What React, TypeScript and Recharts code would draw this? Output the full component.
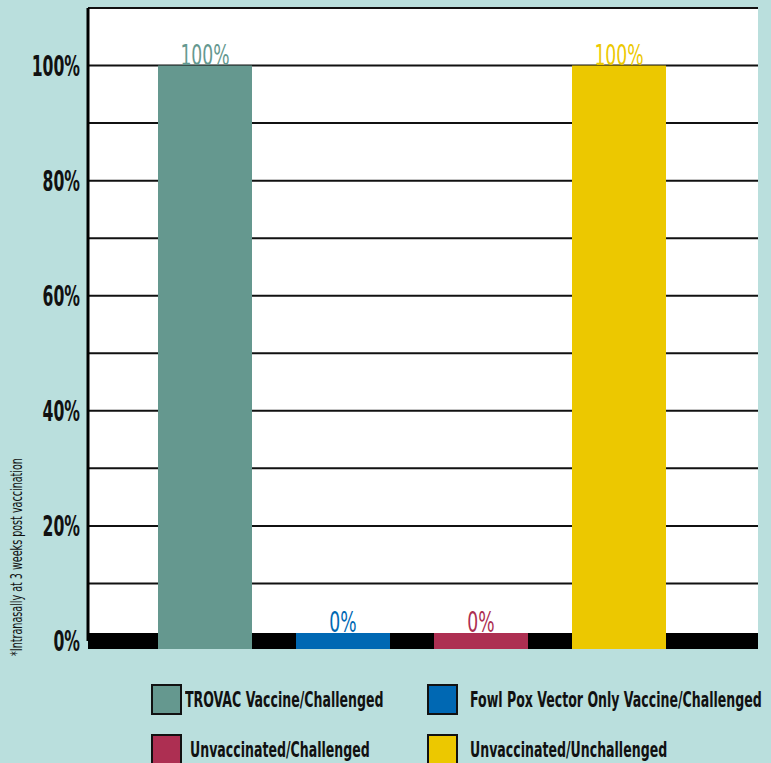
import React from 'react';
import { BarChart, Bar, XAxis, YAxis, CartesianGrid, ReferenceLine, LabelList, Cell } from 'recharts';

const categories = [
  'TROVAC Vaccine/Challenged',
  'Fowl Pox Vector Only Vaccine/Challenged',
  'Unvaccinated/Challenged',
  'Unvaccinated/Unchallenged',
];
const protectionValues = [100, 0, 0, 100];
const barColors = ['#65988f', '#0068b3', '#ad2f52', '#ecc800'];
const gridTicks = [0, 10, 20, 30, 40, 50, 60, 70, 80, 90, 100, 110];
const labelledTicks = [0, 20, 40, 60, 80, 100];
const legendOrder = [0, 1, 2, 3];
const footnote = '*Intranasally at 3 weeks post vaccination';

const data = categories.map((name, i) => ({ name, value: protectionValues[i] }));

const FONT = "'DejaVu Sans Condensed', 'Liberation Sans Narrow', sans-serif";
const BAND = 8;

const YTick = (props: any) => {
  const { x, y, payload } = props;
  if (!labelledTicks.includes(payload.value)) return null;
  return (
    <text
      transform={`translate(${x},${y}) scale(0.6,1)`}
      textAnchor="end"
      dy="0.36em"
      fontSize={29}
      fontWeight="bold"
      fontFamily={FONT}
      fill="#111"
    >
      {payload.value}%
    </text>
  );
};

const BarShape = (props: any) => {
  const { x, y, width, height, index } = props;
  const top = height > 0 ? y : y - BAND;
  const bottom = y + height + BAND;
  return <rect x={x} y={top} width={width} height={bottom - top} fill={barColors[index]} />;
};

const BarLabel = (props: any) => {
  const { x, y, width, value, index } = props;
  const base = value === 0 ? y - BAND : y;
  return (
    <text
      transform={`translate(${x + width / 2},${base - 1}) scale(0.66,1)`}
      textAnchor="middle"
      fontSize={29}
      fontFamily={FONT}
      fill={barColors[index]}
    >
      {value}%
    </text>
  );
};

export default function App() {
  return (
    <div style={{ position: 'absolute', left: 0, top: 0, width: 771, height: 763, background: '#badfdd', overflow: 'hidden' }}>
      <BarChart
        width={771}
        height={763}
        data={data}
        margin={{ top: 8, right: 13, bottom: 122, left: 0 }}
        barSize={94}
      >
        <CartesianGrid horizontal vertical={false} stroke="#111" strokeWidth={2} fill="#ffffff" fillOpacity={1} />
        <XAxis dataKey="name" hide padding={{ left: 48, right: 70 }} />
        <YAxis
          domain={[0, 110]}
          ticks={gridTicks}
          interval={0}
          width={88}
          tickLine={false}
          tickSize={0}
          tickMargin={8}
          axisLine={{ stroke: '#000', strokeWidth: 3 }}
          tick={<YTick />}
        />
        <YAxis
          yAxisId="r"
          orientation="right"
          domain={[0, 110]}
          width={0}
          tick={false}
          tickLine={false}
          axisLine={{ stroke: '#000', strokeWidth: 2 }}
        />
        <ReferenceLine y={0} stroke="#000" strokeWidth={BAND * 2} zIndex={-10} />
        <Bar dataKey="value" isAnimationActive={false} shape={<BarShape />}>
          {data.map((d, i) => (
            <Cell key={d.name} fill={barColors[i]} />
          ))}
          <LabelList dataKey="value" content={<BarLabel />} />
        </Bar>
      </BarChart>

      <div
        style={{
          position: 'absolute',
          left: 17,
          top: 557,
          transform: 'translate(-50%, -50%) rotate(-90deg) scale(0.71, 1)',
          whiteSpace: 'nowrap',
          fontFamily: FONT,
          fontSize: 15,
          color: '#111',
        }}
      >
        {footnote}
      </div>

      {legendOrder.map((idx, k) => {
        const col = k % 2;
        const row = Math.floor(k / 2);
        return (
          <div
            key={categories[idx]}
            style={{
              position: 'absolute',
              left: col === 0 ? 151 : 427,
              top: 684 + row * 50,
              display: 'flex',
              alignItems: 'center',
              height: 31,
              whiteSpace: 'nowrap',
            }}
          >
            <div
              style={{
                width: 31,
                height: 31,
                boxSizing: 'border-box',
                border: '2px solid #111',
                background: barColors[idx],
                flex: 'none',
              }}
            />
            <span
              style={{
                marginLeft: col === 0 ? (row === 0 ? 3 : 8) : 12,
                fontFamily: FONT,
                fontSize: 21,
                fontWeight: 'bold',
                color: '#111',
                display: 'inline-block',
                transform: 'scale(0.665, 1)',
                transformOrigin: 'left center',
              }}
            >
              {categories[idx]}
            </span>
          </div>
        );
      })}
    </div>
  );
}
